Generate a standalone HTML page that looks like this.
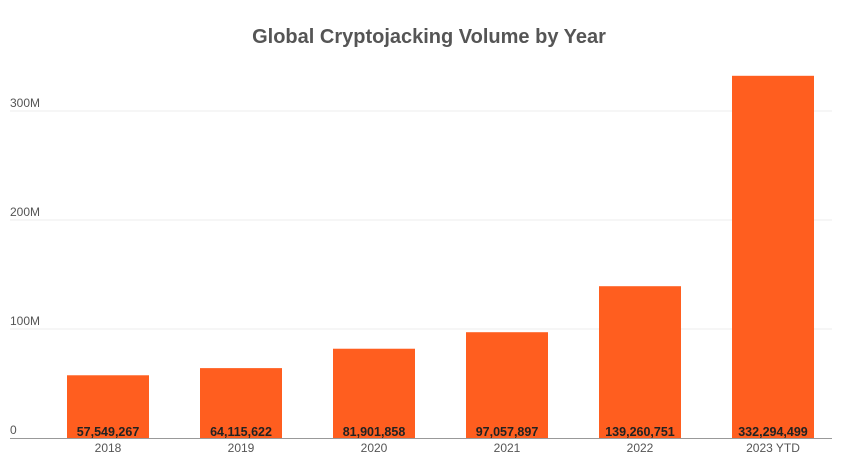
<!DOCTYPE html>
<html><head><meta charset="utf-8"><style>
body{margin:0;background:#fff;width:850px;height:469px;overflow:hidden;font-family:"Liberation Sans",sans-serif}
</style></head><body>
<svg width="850" height="469">
<text x="429" y="43" text-anchor="middle" font-size="20" font-weight="bold" fill="#555">Global Cryptojacking Volume by Year</text>
<g id="grid"></g><g id="bars"></g>
<line x1="10" x2="832" y1="438.5" y2="438.5" stroke="#999" stroke-width="1"/>
</svg>
<script>
const categories=["2018","2019","2020","2021","2022","2023 YTD"];
const values=[57549267,64115622,81901858,97057897,139260751,332294499];
const yTicks=[0,100e6,200e6,300e6];
const yTickLabels=["0","100M","200M","300M"];
const NS="http://www.w3.org/2000/svg";
const y=v=>438-v/1e6*1.09;
const x=i=>67+i*133;
const bw=82;
const grid=document.getElementById('grid'),bars=document.getElementById('bars');
function mk(tag,attrs,parent,text){const e=document.createElementNS(NS,tag);for(const k in attrs)e.setAttribute(k,attrs[k]);if(text!==undefined)e.textContent=text;parent.appendChild(e);return e;}
yTicks.forEach((t,i)=>{
 if(t>0){const l=mk('line',{x1:10,x2:832,y1:y(t),y2:y(t),stroke:'#eee'},grid);
 
 }
 const tx=mk('text',{x:10,y:y(t)-4,'font-size':12,fill:'#555'},grid,yTickLabels[i]);
 
 
});
values.forEach((v,i)=>{
 const r=mk('rect',{x:x(i),y:y(v),width:bw,height:438-y(v),fill:'#ff5e1f'},bars);
 
 
 const t=mk('text',{x:x(i)+bw/2,y:436,'text-anchor':'middle','font-size':12.5,'font-weight':'bold',fill:'#222'},bars,v.toLocaleString('en-US'));
 
 
 const c=mk('text',{x:x(i)+bw/2,y:452,'text-anchor':'middle','font-size':12,fill:'#555'},bars,categories[i]);
 
 
});
</script>
</body></html>
